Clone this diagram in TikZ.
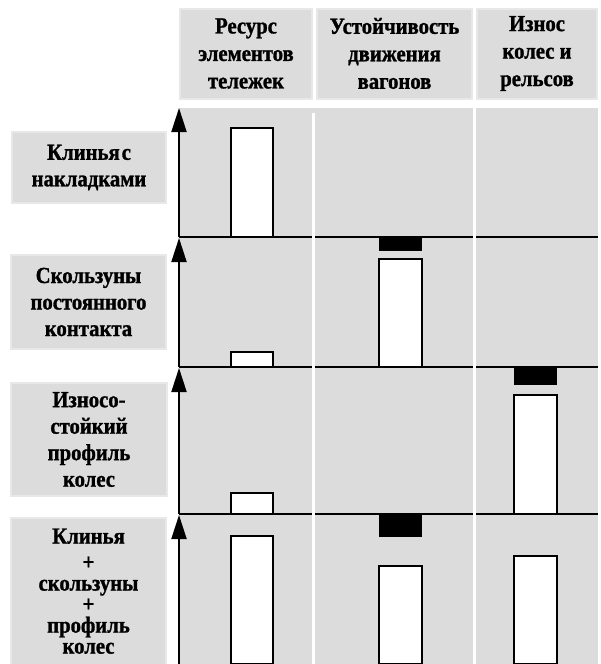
\documentclass[tikz,border=0pt]{standalone}
\usepackage{fontspec}
\setmainfont{Liberation Serif}[FakeStretch=0.9, BoldFeatures={FakeBold=1.2}]
\usetikzlibrary{arrows.meta}
\definecolor{cellgray}{HTML}{DCDCDC}
\definecolor{edgegray}{HTML}{E8E8E8}
\tikzset{
  hdrbox/.style={draw=edgegray, line width=2pt, fill=cellgray, inner sep=0pt, align=center,
    font=\bfseries\fontsize{23}{27.5}\selectfont},
  labbox/.style={draw=edgegray, line width=2pt, fill=cellgray, inner sep=0pt, align=center,
    font=\bfseries\fontsize{23}{26.5}\selectfont},
  axisarrow/.style={line width=2pt, -{Triangle[width=15pt,length=24pt]}},
  rowline/.style={line width=2.5pt},
  sepline/.style={white, line width=3pt},
  whitebar/.style={draw=black, line width=1.4pt, fill=white},
  blackbar/.style={fill=black},
}
\begin{document}
\begin{tikzpicture}[x=1pt,y=-1pt]
\useasboundingbox (0,0) rectangle (600,664);
% grid background
\fill[cellgray] (179,108) rectangle (598,664);
% header boxes
\node[hdrbox, minimum width=132pt, minimum height=90pt] (H1) at (246,53.5) {Ресурс\\элементов\\тележек};
\node[hdrbox, minimum width=155pt, minimum height=90pt] (H2) at (394.5,53.5) {Устойчивость\\движения\\вагонов};
\node[hdrbox, minimum width=120pt, minimum height=90pt] (H3) at (537,53.5) {Износ\\колес и\\рельсов};
% label boxes
\node[labbox, minimum width=154pt, minimum height=71pt] (L1) at (89,167.5) {Клинья\hspace{2pt}с\\накладками};
\node[labbox, minimum width=155pt, minimum height=94pt] (L2) at (88.5,302) {Скользуны\\постоянного\\контакта};
\node[labbox, minimum width=156pt, minimum height=113pt] (L3) at (89,439.5) {Износо-\\стойкий\\профиль\\колес};
\node[labbox, minimum width=155pt, minimum height=150pt, anchor=north] (L4) at (88.5,517) {};
\node[font=\bfseries\fontsize{23}{21}\selectfont, align=center, anchor=north] (L4t) at (88.5,525)
  {Клинья\\[5pt]+\\скользуны\\+\\профиль\\колес};
% row coordinates
\coordinate (r1t) at (179,108);
\coordinate (r1b) at (179,237);
\coordinate (r2t) at (179,238);
\coordinate (r2b) at (179,367);
\coordinate (r3t) at (179,368);
\coordinate (r3b) at (179,514);
\coordinate (r4t) at (179,515);
\coordinate (r4b) at (179,664);
\coordinate (e1) at (598,237);
\coordinate (e2) at (598,367);
\coordinate (e3) at (598,514);
% bars
\draw[whitebar] (231,237) rectangle (273,128);
\draw[whitebar] (231,367) rectangle (273,352);
\fill[blackbar] (379,237) rectangle (422,251);
\draw[whitebar] (379,367) rectangle (422,259);
\draw[whitebar] (231,514) rectangle (273,493);
\fill[blackbar] (514,367) rectangle (557,385);
\draw[whitebar] (514,514) rectangle (557,395);
\draw[whitebar] (231,664) rectangle (273,536);
\fill[blackbar] (379,514) rectangle (422,537);
\draw[whitebar] (379,664) rectangle (422,566);
\draw[whitebar] (514,664) rectangle (557,556);
% row lines
\draw[rowline] (r1b) -- (e1);
\draw[rowline] (r2b) -- (e2);
\draw[rowline] (r3b) -- (e3);
% separators
\coordinate (s1t) at (313,113);
\coordinate (s1b) at (313,664);
\coordinate (s2t) at (474,108);
\coordinate (s2b) at (474,664);
\draw[sepline] (s1t) -- (s1b);
\draw[sepline] (s2t) -- (s2b);
% axes
\draw[axisarrow] (r1b) -- (r1t);
\draw[axisarrow] (r2b) -- (r2t);
\draw[axisarrow] (r3b) -- (r3t);
\draw[axisarrow] (r4b) -- (r4t);
\end{tikzpicture}
\end{document}
